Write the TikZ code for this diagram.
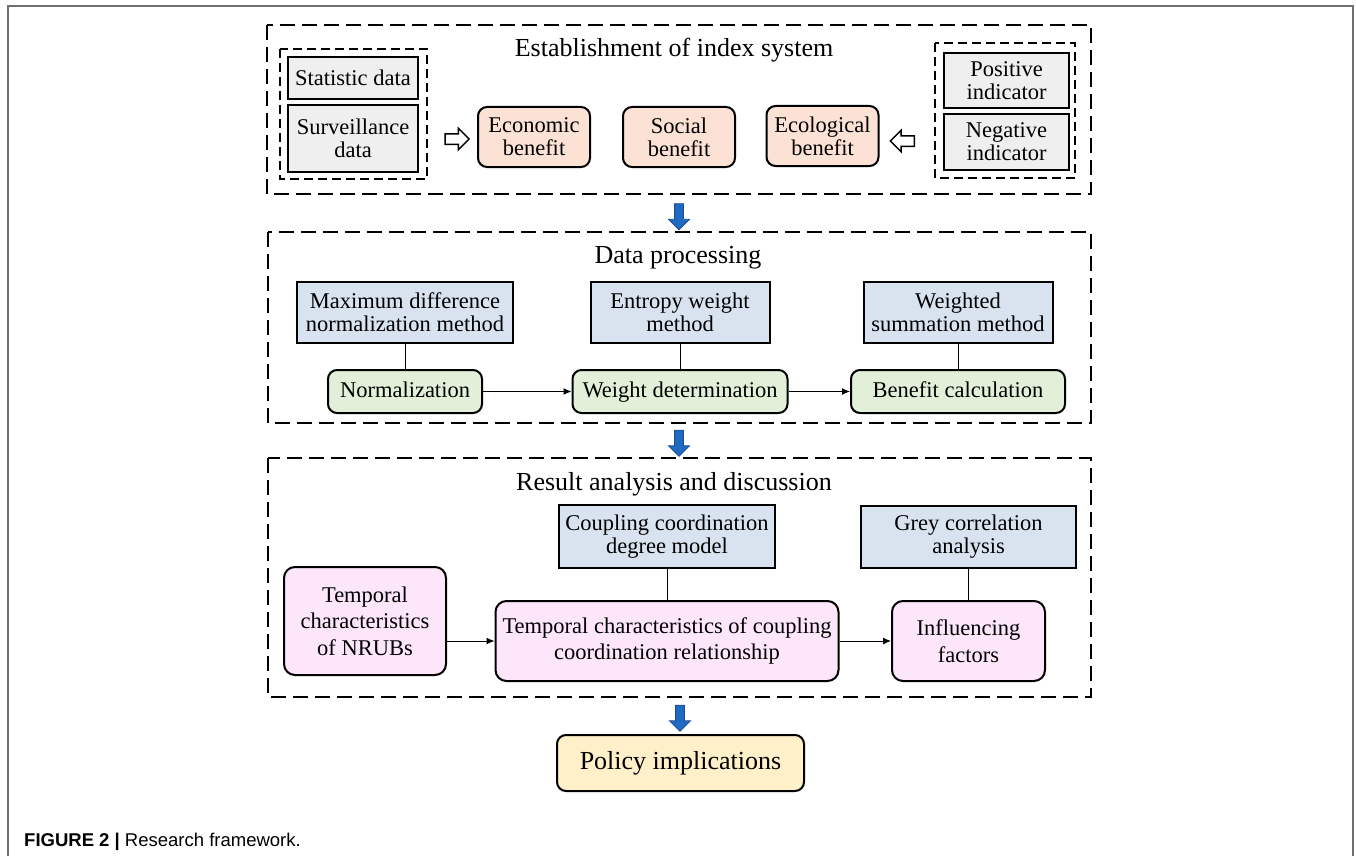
\documentclass[tikz,border=0pt]{standalone}
\usepackage{fontspec}
\setmainfont{Liberation Serif}
\newfontfamily\capfont{Liberation Sans}
\usetikzlibrary{shapes,arrows.meta,positioning}

\definecolor{greyfill}{HTML}{EFEFEF}
\definecolor{benefitfill}{HTML}{FBE2D5}
\definecolor{methodfill}{HTML}{D9E3F0}
\definecolor{stepfill}{HTML}{E2F0D9}
\definecolor{resultfill}{HTML}{FDE6FA}
\definecolor{policyfill}{HTML}{FFF0C9}
\definecolor{flowblue}{HTML}{1F6BC4}
\definecolor{flowedge}{HTML}{1A4E8F}
\definecolor{pagegrey}{HTML}{707070}

\begin{document}
\begin{tikzpicture}[x=1pt, y=-1pt,
    frame/.style={draw, dash pattern=on 15pt off 7pt, line width=1.7pt},
    subframe/.style={draw, dash pattern=on 9pt off 5pt, line width=1.5pt},
    title/.style={font=\fontsize{26}{28}\selectfont},
    box/.style={draw, line width=2pt, inner sep=0pt, align=center, font=\fontsize{22.5}{23}\selectfont},
    databox/.style={box, fill=greyfill, minimum width=130pt},
    benefitbox/.style={box, rounded corners=9pt, fill=benefitfill, minimum width=112pt, minimum height=60pt},
    methodbox/.style={box, fill=methodfill, minimum height=61pt},
    stepbox/.style={box, rounded corners=9pt, fill=stepfill, minimum height=43pt, text height=16pt, text depth=5pt},
    resultbox/.style={box, rounded corners=11pt, fill=resultfill, font=\fontsize{22.5}{26.5}\selectfont},
    policybox/.style={box, rounded corners=9pt, fill=policyfill, font=\fontsize{26}{28}\selectfont, text height=18.5pt, text depth=6pt},
    link/.style={line width=1pt},
    flow/.style={line width=1pt, -{Latex[length=8pt, width=7pt]}},
    flowarrow/.style={single arrow, rotate=-90, fill=flowblue, draw=flowedge, line width=0.8pt,
        inner sep=4pt, single arrow head extend=6pt, minimum height=26pt},
    hollowarrow/.style={single arrow, draw, fill=white, line width=1.5pt,
        inner sep=4.5pt, single arrow head extend=5.5pt, minimum height=24pt}]
    \useasboundingbox (0,0) rectangle (1356,856);

    % page frame
    \draw[pagegrey, line width=2pt] (8,856) -- (8,6) -- (1353,6) -- (1353,856);

    % Establishment of index system
    \draw[frame] (267,25) rectangle (1091,194);
    \node[title] (index) at (674,50) {Establishment of index system};
    \draw[subframe] (280,49) rectangle (427,179);
    \node[databox, minimum height=42pt] (stat) at (353,78) {Statistic data};
    \node[databox, minimum height=67pt] (surv) at (353,138.5) {Surveillance\\data};
    \node[hollowarrow] (inright) at (454.5,139) {};
    \node[benefitbox] (econ) at (534,137) {Economic\\benefit};
    \node[benefitbox] (social) at (679,137) {Social\\benefit};
    \node[benefitbox] (ecol) at (822.5,136) {Ecological\\benefit};
    \node[hollowarrow, rotate=180] (inleft) at (905,141) {};
    \draw[subframe] (935,43) rectangle (1075,178);
    \node[databox, minimum width=125pt, minimum height=55pt] (pos) at (1006.5,80.5) {Positive\\indicator};
    \node[databox, minimum width=125pt, minimum height=56pt] (neg) at (1006.5,142) {Negative\\indicator};

    \node[flowarrow] (down1) at (679,214.5) {};

    % Data processing
    \draw[frame] (268,232) rectangle (1091,423);
    \node[title] (proc) at (678,258) {Data processing};
    \node[methodbox, minimum width=216pt] (maxdiff) at (405,312.5) {Maximum difference\\normalization method};
    \node[methodbox, minimum width=179pt] (entropy) at (680,312.5) {Entropy weight\\method};
    \node[methodbox, minimum width=189pt] (wsum) at (958,312.5) {Weighted\\summation method};
    \node[stepbox, minimum width=154pt] (norm) at (405,391.5) {Normalization};
    \node[stepbox, minimum width=215pt] (weight) at (680,391.5) {Weight determination};
    \node[stepbox, minimum width=214pt] (calc) at (958,391.5) {Benefit calculation};
    \draw[link] (maxdiff) -- (norm);
    \draw[link] (entropy) -- (weight);
    \draw[link] (wsum) -- (calc);
    \draw[flow] (norm) -- (weight);
    \draw[flow] (weight) -- (calc);

    \node[flowarrow] (down2) at (679,441) {};

    % Result analysis and discussion
    \draw[frame] (268,458) rectangle (1091,697);
    \node[title] (result) at (674,484) {Result analysis and discussion};
    \node[methodbox, minimum width=216pt, minimum height=63pt] (ccdm) at (667,536.5) {Coupling coordination\\degree model};
    \node[methodbox, minimum width=215pt, minimum height=62pt] (grey) at (968.5,537) {Grey correlation\\analysis};
    \node[resultbox, minimum width=162pt, minimum height=108pt] (nrubs) at (365,621) {Temporal\\characteristics\\of NRUBs};
    \node[resultbox, minimum width=343pt, minimum height=80pt] (coupling) at (667,641) {Temporal characteristics of coupling\\coordination relationship};
    \node[resultbox, minimum width=153pt, minimum height=80pt] (factors) at (968.5,641) {Influencing\\factors};
    \draw[link] (ccdm) -- (coupling);
    \draw[link] (grey) -- (factors);
    \draw[flow] (nrubs.east |- coupling.west) -- (coupling.west);
    \draw[flow] (coupling) -- (factors);

    \node[flowarrow] (down3) at (680,716) {};
    \node[policybox, minimum width=247pt, minimum height=56pt] (policy) at (680.5,763) {Policy implications};

    % caption
    \node[anchor=west, inner sep=0pt, font=\capfont\fontsize{18.5}{20}\selectfont] (caption) at (24,842) {\textbf{FIGURE 2 |} Research framework.};
\end{tikzpicture}
\end{document}
